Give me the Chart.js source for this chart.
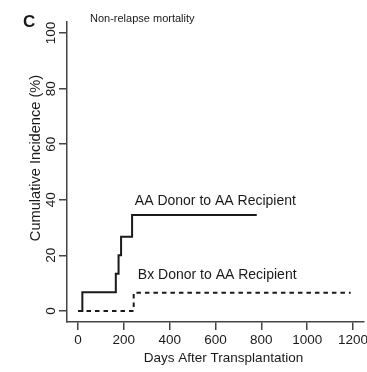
<!DOCTYPE html>
<html>
<head>
<meta charset="utf-8">
<script src="https://cdn.jsdelivr.net/npm/chart.js@4"></script>
<style>
  html, body { margin: 0; padding: 0; background: #ffffff; }
  #wrap { width: 367px; height: 372px; position: relative; }
</style>
</head>
<body>
<div id="wrap"><canvas id="c" width="367" height="372"></canvas></div>
<script>
// ---- data ----
const aaDays   = [0, 19, 165, 177, 188, 236, 780];
const aaValues = [0, 6.67, 13.33, 20, 26.67, 34.5, 34.5];
const bxDays   = [0, 243, 1190];
const bxValues = [0, 6.5, 6.5];
const xTickValues = [0, 200, 400, 600, 800, 1000, 1200];
const yTickValues = [0, 20, 40, 60, 80, 100];
const seriesNames = ['AA Donor to AA Recipient', 'Bx Donor to AA Recipient'];
const panelLetter = 'C';
const panelTitle = 'Non-relapse mortality';
const xTitle = 'Days After Transplantation';
const yTitle = 'Cumulative Incidence (%)';

const FONT = "'Liberation Sans', Arial, Helvetica, sans-serif";
const INK = '#1a1a1a';
const AXIS = '#444444';

const toPts = (xs, ys) => xs.map((d, i) => ({ x: d, y: ys[i] }));

const textPlugin = {
  id: 'texts',
  afterDraw(chart) {
    const { ctx, chartArea, scales } = chart;
    const xs = scales.x, ys = scales.y;
    ctx.save();
    ctx.fillStyle = INK;
    // panel letter
    ctx.font = 'bold 17px ' + FONT;
    ctx.textAlign = 'left';
    ctx.textBaseline = 'alphabetic';
    ctx.fillText(panelLetter, 23, 27);
    // panel title
    ctx.font = '11px ' + FONT;
    ctx.fillText(panelTitle, 90, 21.5);
    // series labels placed in data space
    ctx.font = '14px ' + FONT;
    ctx.textBaseline = 'middle';
    ctx.fillText(seriesNames[0], xs.getPixelForValue(248), ys.getPixelForValue(39.5));
    ctx.fillText(seriesNames[1], xs.getPixelForValue(261), ys.getPixelForValue(12.7));
    // x title
    ctx.font = '13.5px ' + FONT;
    ctx.textAlign = 'center';
    ctx.fillText(xTitle, (chartArea.left + chartArea.right) / 2 + 8, 358);
    // y title
    ctx.font = '14.6px ' + FONT;
    ctx.translate(36, (chartArea.top + chartArea.bottom) / 2 - 14);
    ctx.rotate(-Math.PI / 2);
    ctx.fillText(yTitle, 0, 0);
    ctx.restore();
  }
};

new Chart(document.getElementById('c'), {
  type: 'line',
  data: {
    datasets: [
      {
        label: seriesNames[0],
        data: toPts(aaDays, aaValues),
        stepped: 'before',
        borderColor: INK,
        borderWidth: 2,
        pointRadius: 0,
        fill: false
      },
      {
        label: seriesNames[1],
        data: toPts(bxDays, bxValues),
        stepped: 'before',
        borderColor: INK,
        borderWidth: 2,
        borderDash: [4.5, 4],
        pointRadius: 0,
        fill: false
      }
    ]
  },
  options: {
    responsive: false,
    animation: false,
    devicePixelRatio: 1,
    layout: { padding: { left: 0, right: 3, top: 22, bottom: 0 } },
    plugins: {
      legend: { display: false },
      tooltip: { enabled: false },
      title: { display: false }
    },
    scales: {
      x: {
        type: 'linear',
        min: -48,
        max: 1248,
        afterBuildTicks: (s) => { s.ticks = xTickValues.map(v => ({ value: v })); },
        afterFit: (s) => { s.height = 50; s.paddingLeft = 0; s.paddingRight = 0; },
        grid: { drawOnChartArea: false, drawTicks: true, tickLength: 8, color: AXIS, lineWidth: 1.5 },
        border: { display: true, color: AXIS, width: 1.5 },
        ticks: { color: INK, font: { family: FONT, size: 13.5 }, padding: 2, maxRotation: 0, autoSkip: false,
                 callback: (v) => String(v) }
      },
      y: {
        type: 'linear',
        min: -4,
        max: 104,
        afterBuildTicks: (s) => { s.ticks = yTickValues.map(v => ({ value: v })); },
        afterFit: (s) => { s.width = 67; s.paddingTop = 0; s.paddingBottom = 0; },
        grid: { drawOnChartArea: false, drawTicks: true, tickLength: 8, color: AXIS, lineWidth: 1.5 },
        border: { display: true, color: AXIS, width: 1.5 },
        ticks: { color: INK, font: { family: FONT, size: 13.5 }, padding: -3.75, minRotation: 90, maxRotation: 90, crossAlign: 'center', autoSkip: false,
                 callback: (v) => String(v) }
      }
    }
  },
  plugins: [textPlugin]
});
</script>
</body>
</html>
